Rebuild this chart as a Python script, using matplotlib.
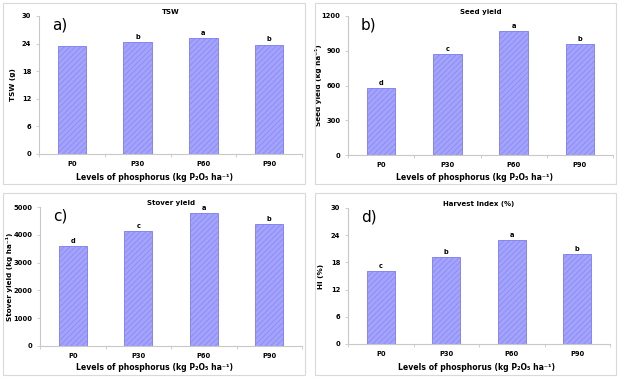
import matplotlib.pyplot as plt
from matplotlib.patches import Rectangle
import numpy as np

plt.rcParams["hatch.linewidth"] = 0.35

levels = ["P0", "P30", "P60", "P90"]

tsw = [23.5, 24.3, 25.3, 23.8]
tsw_letters = ["", "b", "a", "b"]

seed_yield = [580, 870, 1068, 960]
seed_letters = ["d", "c", "a", "b"]

stover_yield = [3600, 4130, 4790, 4390]
stover_letters = ["d", "c", "a", "b"]

harvest_index = [16.0, 19.1, 22.9, 19.8]
hi_letters = ["c", "b", "a", "b"]

xlabel_text = "Levels of phosphorus (kg P\u2082O\u2085 ha\u207b\u00b9)"

panels = [
    # tag, title, ylabel, values, letters, ymax, step,
    # axes box, frame box, ylabel x, xlabel (x, y)  -- all in pixels
    ("a)", "TSW", "TSW (g)", tsw, tsw_letters, 30, 6,
     [39, 16, 302, 154], [3, 3, 305, 184], 13, (155, 178)),
    ("b)", "Seed yield", "Seed yield (kg ha\u207b\u00b9)", seed_yield, seed_letters, 1200, 300,
     [348, 16, 613, 155], [315, 3, 616, 184], 319, (475, 177)),
    ("c)", "Stover yield", "Stover yield (kg ha\u207b\u00b9)", stover_yield, stover_letters, 5000, 1000,
     [40, 207, 302, 346], [3, 193, 305, 375], 10, (155, 368)),
    ("d)", "Harvest Index (%)", "HI (%)", harvest_index, hi_letters, 30, 6,
     [348, 208, 610, 344], [315, 193, 616, 375], 321, (476, 367)),
]

W, H = 624, 379
fig = plt.figure(figsize=(W / 100, H / 100), dpi=100)

bar_face = "#a3a3fb"
bar_edge = "#7b7bf2"
axis_col = "#c8c8c8"

for tag, title, ylabel, vals, letters, ymax, step, rect, border, ylx, xlxy in panels:
    x0, y0, x1, y1 = rect
    ax = fig.add_axes([x0 / W, 1 - y1 / H, (x1 - x0) / W, (y1 - y0) / H])

    # light frame round each panel
    bx0, by0, bx1, by1 = border
    fig.patches.append(Rectangle((bx0 / W, 1 - by1 / H), (bx1 - bx0) / W, (by1 - by0) / H,
                                 transform=fig.transFigure, fill=False,
                                 edgecolor="#d9d9d9", linewidth=0.8))

    x = np.arange(len(levels))
    ax.bar(x, vals, width=0.43, color=bar_face, edgecolor=bar_edge,
           linewidth=0.6, hatch="//////")
    for xi, v, lab in zip(x, vals, letters):
        if lab:
            ax.text(xi, v + ymax * 0.015, lab, ha="center", va="bottom",
                    fontsize=4.8, fontweight="bold")

    ax.set_xlim(-0.5, len(levels) - 0.5)
    ax.set_ylim(0, ymax)
    ax.set_yticks(np.arange(0, ymax + 1, step))
    ax.set_xticks(x)
    ax.set_xticklabels(levels)
    ax.set_xticks(np.arange(-0.5, len(levels), 1.0), minor=True)

    for s in ["top", "right"]:
        ax.spines[s].set_visible(False)
    for s in ["left", "bottom"]:
        ax.spines[s].set_color(axis_col)
        ax.spines[s].set_linewidth(0.8)

    ax.tick_params(axis="y", length=2.5, width=0.6, color=axis_col,
                   labelsize=4.9, pad=3)
    ax.tick_params(axis="x", which="major", length=0, labelsize=4.9, pad=5)
    ax.tick_params(axis="x", which="minor", length=2.5, width=0.6, color=axis_col)
    for lbl in ax.get_xticklabels() + ax.get_yticklabels():
        lbl.set_fontweight("bold")

    ax.set_ylabel(ylabel, fontsize=5.2, fontweight="bold")
    ax.yaxis.set_label_coords((ylx - x0) / (x1 - x0), 0.5)
    ax.set_xlabel(xlabel_text, fontsize=5.6, fontweight="bold")
    ax.xaxis.set_label_coords((xlxy[0] - x0) / (x1 - x0), (y1 - xlxy[1]) / (y1 - y0))
    ax.xaxis.label.set_va("center")
    ax.yaxis.label.set_va("center")
    ax.set_title(title, fontsize=5.0, fontweight="bold", pad=1.5)

    fig.text((x0 + 13) / W, 1 - (y0 + 9) / H, tag, fontsize=11,
             ha="left", va="center")

fig.savefig("out.png", dpi=100)
